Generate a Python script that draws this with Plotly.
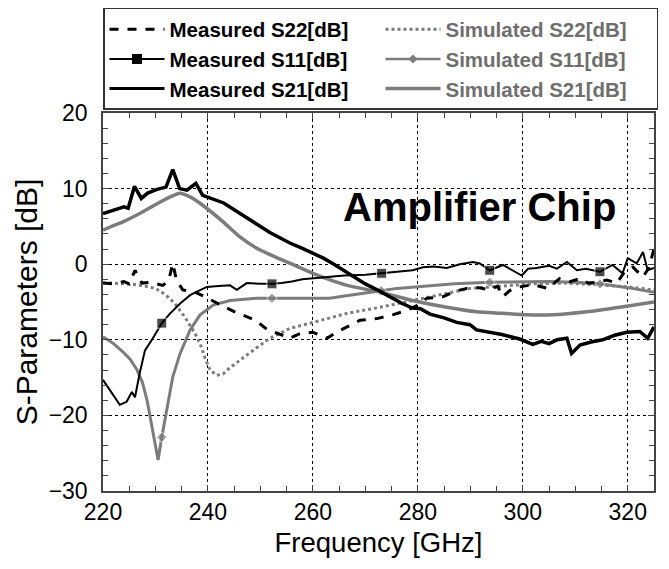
import plotly.graph_objects as go

# ---------------- data ----------------
meas_s21_f = [220, 222, 224, 224.8, 226, 227.3, 228.5, 230.3, 232, 233.3, 234.6, 236, 237.7, 239, 241, 243,
              245, 247.4, 250, 251.8, 253.7, 255.6, 258, 260, 262, 264, 266.5, 268, 270, 272.8, 274.7, 277,
              279, 280.5, 282.3, 285, 287.4, 289.9, 291.2, 293.7, 296, 299.4, 301.9, 303.5, 305, 306.5, 308.4,
              309.3, 310.9, 313, 315.2, 317.5, 319.8, 322.3, 323.8, 325]
meas_s21_db = [6.7, 7.2, 7.6, 7.4, 10.3, 8.7, 9.4, 9.9, 10.2, 12.5, 10.0, 9.8, 10.7, 9.1, 8.6, 8.1,
               7.2, 6.1, 5.0, 4.2, 3.5, 2.8, 2.1, 1.5, 0.8, 0.0, -1.1, -1.8, -2.6, -3.6, -4.3, -5.2,
               -5.8, -5.9, -6.6, -7.1, -7.7, -8.0, -8.7, -9.0, -9.3, -9.9, -10.6, -10.2, -10.5, -10.0, -9.8,
               -11.8, -10.7, -10.3, -10.0, -9.4, -9.0, -8.9, -9.8, -8.3]

meas_s11_f = [220, 221.5, 223.2, 224.5, 225.5, 226.1, 227, 228, 229.5, 231.2, 232.8, 234.7, 236.6, 238, 239.8,
              242, 244.2, 245.5, 247.4, 250, 252.2, 254, 256, 258, 260, 263, 266, 270, 273.1, 276, 279, 281,
              283, 285.5, 288, 290.5, 291.8, 293.7, 296.2, 298, 299.8, 301, 302.6, 305, 306.5, 308.4, 310.3,
              312, 314.7, 317.1, 319, 320, 321.7, 322.9, 323.8, 325]
meas_s11_db = [-15.3, -16.8, -18.6, -18.2, -16.9, -17.6, -14.4, -11.4, -9.8, -7.8, -6.5, -5.2, -4.1, -3.6, -3.0,
               -2.9, -2.8, -3.4, -2.5, -2.6, -2.6, -2.5, -2.3, -2.0, -1.9, -1.7, -1.5, -1.4, -1.2, -1.0, -0.8, -0.4,
               -0.3, -0.5, 0.0, 0.3, 0.1, -0.8, -0.1, -0.8, -1.5, -0.6, -0.5, -0.2, -0.6, 0.3, -0.8,
               -0.6, -1.0, -0.1, -1.2, 0.8, 0.1, 1.6, -0.8, -0.5]
meas_s11_marker_f = [231.2, 252.2, 273.1, 293.7, 314.7]

meas_s22_f = [220, 222, 224, 225, 226.1, 227.4, 229, 230.3, 231.4, 232.5, 233.3, 234, 235.2, 237.5, 239.4,
              241.9, 245.1, 249, 251.4, 253.1, 255.6, 257.5, 260, 262.7, 264.5, 266.5, 269, 272.2, 275.2,
              277.9, 280, 281.7, 284.8, 287, 289.3, 291.5, 293.7, 295.2, 296.2, 297.5, 299.4, 302, 304.8,
              307, 309, 310.9, 312.5, 314.1, 316, 317.9, 319.4, 321, 322.9, 324, 325]
meas_s22_db = [-2.5, -2.6, -2.3, -2.6, -0.8, -2.5, -2.4, -2.6, -2.8, -2.2, 0.1, -2.1, -3.4, -3.7, -4.3,
               -5.2, -6.3, -7.4, -8.7, -9.1, -9.8, -9.2, -9.0, -9.8, -9.0, -8.3, -7.4, -7.2, -6.7,
               -6.1, -5.4, -4.5, -4.3, -3.6, -3.2, -3.1, -3.4, -2.9, -4.3, -3.5, -3.0, -2.7, -3.2,
               -1.9, -2.3, -1.9, -2.5, -2.4, -2.1, -2.5, -1.0, -0.4, -1.7, -0.5, 2.0]

sim_s22_f = [220, 222, 224, 226, 228, 230, 231.2, 232.5, 233.7, 235.6, 237.5, 238.5, 239.5, 240.4, 241.7,
             242.9, 244, 245.5, 248.6, 251.8, 253.7, 255.6, 260, 266.5, 272.8, 279, 285.5, 290, 296, 302,
             308, 314, 320, 325]
sim_s22_db = [-2.5, -2.5, -2.6, -2.7, -2.9, -3.2, -3.7, -4.4, -5.2, -7.0, -9.1, -10.5, -12.5, -14.0, -14.7,
              -14.5, -13.8, -13.0, -11.4, -9.8, -9.1, -8.5, -7.7, -6.5, -5.7, -4.8, -3.8, -3.2, -2.9, -2.6,
              -2.5, -2.7, -3.0, -3.4]

sim_s11_f = [220, 222, 223.8, 225.2, 226.5, 227.5, 228.4, 229.5, 230.5, 231.2, 232.2, 233.3, 234.7, 236.6,
             238.5, 241, 244.2, 249.3, 252.2, 258, 263.2, 266, 269.5, 273, 276, 282.3, 287, 293.7, 300, 305,
             310, 314.7, 320, 325]
sim_s11_db = [-9.6, -10.5, -11.6, -12.6, -14.0, -15.6, -18.0, -22.0, -25.9, -22.9, -18.9, -14.9, -11.8, -8.7,
              -6.7, -5.4, -4.8, -4.5, -4.5, -4.5, -4.5, -4.2, -3.8, -3.5, -3.2, -2.8, -2.6, -2.4, -2.3, -2.3,
              -2.4, -2.6, -3.1, -3.7]
sim_s11_marker_f = [231.2, 252.2, 273, 293.7, 314.7]

sim_s21_f = [220, 222, 223.8, 227, 230.3, 232.8, 234.7, 236.6, 239, 242.9, 246.1, 249.3, 253, 256, 260, 263,
             266.5, 272.8, 279, 285.5, 291.2, 296.2, 300.8, 305.7, 312.2, 318.5, 325]
sim_s21_db = [4.5, 5.1, 5.6, 6.7, 8.0, 8.9, 9.4, 8.9, 7.8, 5.6, 3.6, 2.1, 0.9, 0.0, -1.2, -2.0,
              -2.8, -3.7, -4.8, -5.7, -6.3, -6.5, -6.7, -6.7, -6.3, -5.7, -5.0]

x_ticks = [220, 240, 260, 280, 300, 320]
y_ticks = [-30, -20, -10, 0, 10, 20]
legend_names = ["Measured S22[dB]", "Simulated S22[dB]", "Measured S11[dB]",
                "Simulated S11[dB]", "Measured S21[dB]", "Simulated S21[dB]"]
annotation_text = "Amplifier Chip"

# ---------------- styling ----------------
FONT = "Liberation Sans, Arial, sans-serif"
BLACK = "#000000"
GRAY = "#7c7c7c"
GRAY_TXT = "#6e6e6e"


def marker_sizes(freqs, marks, size):
    return [size if f in marks else 0 for f in freqs]


fig = go.Figure()

# data traces (no legend)
fig.add_trace(go.Scatter(x=sim_s22_f, y=sim_s22_db, mode="lines", showlegend=False,
                         line=dict(color=GRAY, width=3, dash="dot")))
fig.add_trace(go.Scatter(x=sim_s21_f, y=sim_s21_db, mode="lines", showlegend=False,
                         line=dict(color=GRAY, width=3.5, shape="spline", smoothing=0.6)))
fig.add_trace(go.Scatter(x=sim_s11_f, y=sim_s11_db, mode="lines+markers", showlegend=False,
                         line=dict(color=GRAY, width=3),
                         marker=dict(symbol="diamond", color=GRAY,
                                     size=marker_sizes(sim_s11_f, sim_s11_marker_f, 8))))
fig.add_trace(go.Scatter(x=meas_s22_f, y=meas_s22_db, mode="lines", showlegend=False,
                         line=dict(color=BLACK, width=3, dash="dash")))
fig.add_trace(go.Scatter(x=meas_s11_f, y=meas_s11_db, mode="lines+markers", showlegend=False,
                         line=dict(color=BLACK, width=2),
                         marker=dict(symbol="square", color=BLACK,
                                     size=marker_sizes(meas_s11_f, meas_s11_marker_f, 10))))
fig.add_trace(go.Scatter(x=meas_s21_f, y=meas_s21_db, mode="lines", showlegend=False,
                         line=dict(color=BLACK, width=3.5)))

# legend entries (two columns: measured / simulated)
styles = [
    dict(mode="lines", line=dict(color=BLACK, width=3, dash="dash")),
    dict(mode="lines", line=dict(color=GRAY, width=3, dash="dot")),
    dict(mode="lines+markers", line=dict(color=BLACK, width=2),
         marker=dict(symbol="square", color=BLACK, size=10)),
    dict(mode="lines+markers", line=dict(color=GRAY, width=2.5),
         marker=dict(symbol="diamond", color=GRAY, size=7)),
    dict(mode="lines", line=dict(color=BLACK, width=3)),
    dict(mode="lines", line=dict(color=GRAY, width=3.5)),
]
for i, (name, st) in enumerate(zip(legend_names, styles)):
    label = f"<b>{name}</b>" if i % 2 == 0 else f'<b><span style="color:{GRAY_TXT}">{name}</span></b>'
    fig.add_trace(go.Scatter(x=[None], y=[None], name=label, showlegend=True, **st))

fig.add_annotation(x=291.7, y=7.6, xref="x", yref="y", text=f"<b>{annotation_text}</b>",
                   showarrow=False, font=dict(family=FONT, size=40, color=BLACK))

axis_common = dict(
    showline=True, linecolor="#444444", linewidth=1.5, mirror="ticks",
    ticks="inside", ticklen=6, tickwidth=1, tickcolor="#444444",
    showgrid=True, gridcolor="#000000", gridwidth=1, griddash="dot",
    zeroline=False, tickfont=dict(family=FONT, size=23, color=BLACK),
)

fig.update_xaxes(range=[220, 325], tickvals=x_ticks, ticklabelstandoff=0,
                 minor=dict(dtick=5, tick0=220, ticks="inside", ticklen=5, tickcolor="#444444", showgrid=False),
                 title=dict(text="Frequency [GHz]", font=dict(family=FONT, size=27.5, color=BLACK), standoff=8),
                 **axis_common)
fig.update_yaxes(range=[-30, 20], tickvals=y_ticks, ticklabelstandoff=9,
                 minor=dict(dtick=2, tick0=-30, ticks="inside", ticklen=5, tickcolor="#444444", showgrid=False),
                 title=dict(text="S-Parameters [dB]", font=dict(family=FONT, size=30, color=BLACK), standoff=2),
                 **axis_common)

# page body has an 8px default margin: figure is sized/offset to compensate
fig.update_layout(
    width=661, height=561, autosize=False,
    margin=dict(l=95, r=15, t=105, b=78, autoexpand=False),
    paper_bgcolor="white", plot_bgcolor="white",
    font=dict(family=FONT, color=BLACK),
    legend=dict(orientation="h", x=0, xanchor="left", xref="paper",
                y=1.2778, yanchor="top", yref="paper",
                entrywidth=206, entrywidthmode="pixels", itemwidth=55,
                bordercolor="#333333", borderwidth=1.5, bgcolor="white",
                font=dict(family=FONT, size=20.5, color=BLACK), traceorder="normal"),
)

fig.write_html("out.html")
